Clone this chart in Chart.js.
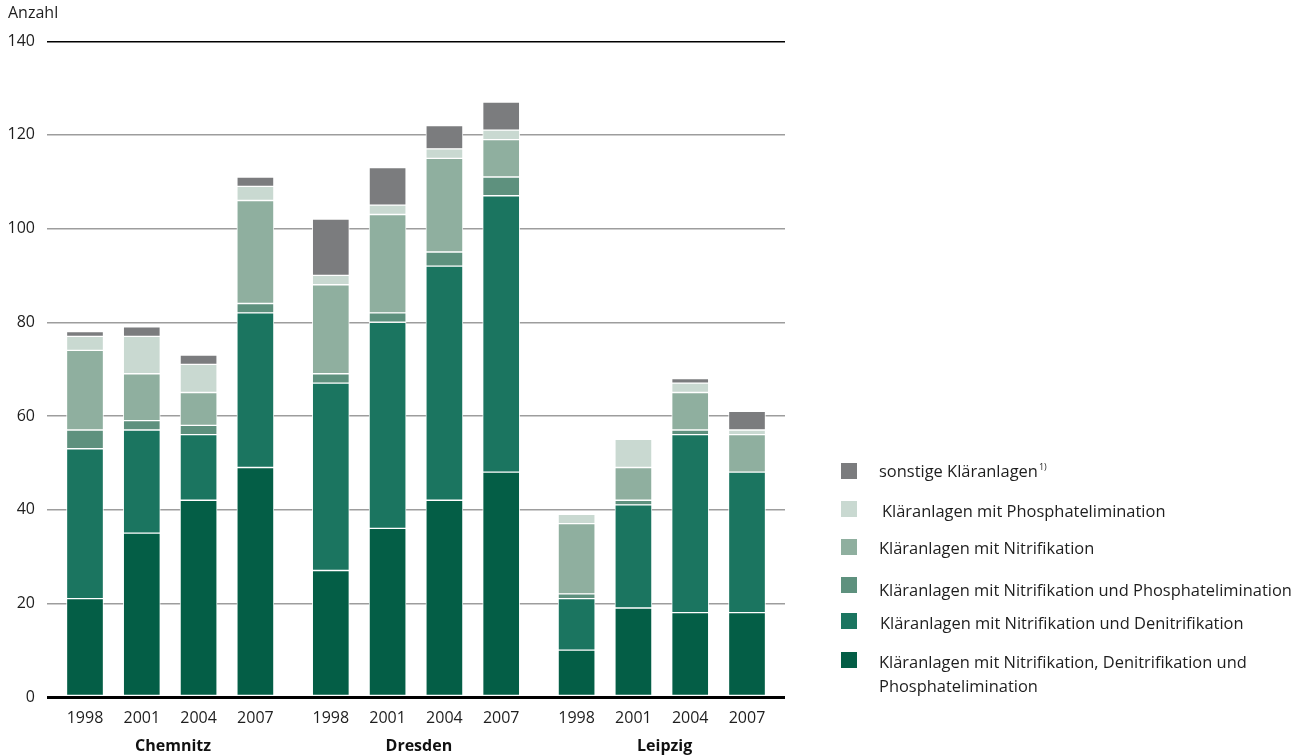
<!DOCTYPE html>
<html>
<head>
<meta charset="utf-8">
<title>Kläranlagen</title>
<script src="https://cdn.jsdelivr.net/npm/chart.js@4/dist/chart.umd.min.js"></script>
<style>
  html, body { margin: 0; padding: 0; background: #fff; }
  #wrap { position: relative; width: 1298px; height: 755px; overflow: hidden; }
  #chart { position: absolute; left: 0; top: 0; }
  .sw { position: absolute; width: 16px; height: 16px; }
  .lt { position: absolute; font-family: 'Open Sans', sans-serif; font-size: 16.45px;
        line-height: 23.5px; color: #1e1e1e; white-space: nowrap; }
  .lt sup { font-size: 9px; line-height: 0; vertical-align: 7px; margin-left: 1px; }
</style>
</head>
<body>
<div id="wrap">
  <canvas id="chart" width="1298" height="755"></canvas>
  <div id="legend"></div>
</div>
<script>
// Anzahl der Kläranlagen nach Behandlungsstufe, je Stadt und Jahr
const cities = ['Chemnitz', 'Dresden', 'Leipzig'];
const years = ['1998', '2001', '2004', '2007'];

// order: Chemnitz 1998..2007, Dresden 1998..2007, Leipzig 1998..2007
const nitDenitPhos = [21, 35, 42, 49, 27, 36, 42, 48, 10, 19, 18, 18];
const nitDenit     = [32, 22, 14, 33, 40, 44, 50, 59, 11, 22, 38, 30];
const nitPhos      = [ 4,  2,  2,  2,  2,  2,  3,  4,  1,  1,  1,  0];
const nit          = [17, 10,  7, 22, 19, 21, 20,  8, 15,  7,  8,  8];
const phos         = [ 3,  8,  6,  3,  2,  2,  2,  2,  2,  6,  2,  1];
const sonstige     = [ 1,  2,  2,  2, 12,  8,  5,  6,  0,  0,  1,  4];

const yTicks = [0, 20, 40, 60, 80, 100, 120, 140];

// stacked bottom to top
const series = [
  { label: 'Kläranlagen mit Nitrifikation, Denitrifikation und Phosphatelimination', values: nitDenitPhos, color: '#045e46' },
  { label: 'Kläranlagen mit Nitrifikation und Denitrifikation', values: nitDenit, color: '#1b7560' },
  { label: 'Kläranlagen mit Nitrifikation und Phosphatelimination', values: nitPhos, color: '#5e917e' },
  { label: 'Kläranlagen mit Nitrifikation', values: nit, color: '#8faf9f' },
  { label: 'Kläranlagen mit Phosphatelimination', values: phos, color: '#c9d9d1' },
  { label: 'sonstige Kläranlagen', values: sonstige, color: '#7b7c7e', note: '1)' }
];

// bar slots: four years per city, with a wider gap between the cities
const groupGap = 0.328;
const xPos = nitDenitPhos.map((_, i) => i + Math.floor(i / years.length) * groupGap);
const cityPos = cities.map((_, g) => g * (years.length + groupGap) + (years.length - 1) / 2 + 0.05);
const xMin = -0.669;
const xMax = xPos[xPos.length - 1] + 0.669;

const fontFamily = "'Open Sans', sans-serif";
const textColor = '#1e1e1e';

const ctx = document.getElementById('chart').getContext('2d');
const chart = new Chart(ctx, {
  type: 'bar',
  data: {
    datasets: series.map(s => ({
      label: s.label,
      data: s.values.map((v, i) => ({ x: xPos[i], y: v })),
      backgroundColor: s.color,
      borderColor: 'rgba(255,255,255,0.85)',
      borderWidth: 1,
      borderSkipped: false,
      barThickness: 37,
      xAxisID: 'x',
      yAxisID: 'y'
    }))
  },
  options: {
    responsive: false,
    animation: false,
    events: [],
    layout: { padding: { left: 8, right: 513, top: 0, bottom: 0 } },
    plugins: {
      legend: { display: false },
      tooltip: { enabled: false },
      title: {
        display: true,
        text: 'Anzahl',
        align: 'start',
        color: textColor,
        font: { family: fontFamily, size: 16, weight: 'normal' },
        padding: { top: 4, bottom: 18 }
      }
    },
    scales: {
      x: {
        type: 'linear',
        position: 'bottom',
        offset: false,
        stacked: true,
        min: xMin,
        max: xMax,
        grid: { display: false },
        border: { display: false },
        afterBuildTicks: s => { s.ticks = xPos.map(v => ({ value: v })); },
        afterFit: s => { s.height = 30; },
        ticks: {
          autoSkip: false,
          maxRotation: 0,
          padding: 4,
          color: textColor,
          font: { family: fontFamily, size: 16 },
          callback: (v, i) => years[i % years.length]
        }
      },
      x2: {
        type: 'linear',
        position: 'bottom',
        offset: false,
        min: xMin,
        max: xMax,
        grid: { display: false },
        border: { display: false },
        afterBuildTicks: s => { s.ticks = cityPos.map(v => ({ value: v })); },
        afterFit: s => { s.height = 28; },
        ticks: {
          autoSkip: false,
          maxRotation: 0,
          padding: 2,
          color: '#111',
          font: { family: fontFamily, size: 16, weight: 'bold' },
          callback: (v, i) => cities[i]
        }
      },
      y: {
        stacked: true,
        min: 0,
        max: 140,
        afterBuildTicks: s => { s.ticks = yTicks.map(v => ({ value: v })); },
        afterFit: s => { s.width = 39; },
        border: { display: false },
        grid: {
          drawTicks: false,
          color: c => (c.tick.value === 0 || c.tick.value === 140) ? '#000' : '#9d9d9d',
          lineWidth: c => c.tick.value === 0 ? 3 : 1.4
        },
        ticks: {
          padding: 12,
          color: textColor,
          font: { family: fontFamily, size: 16 }
        }
      }
    }
  }
});

// legend, top entry first
const legendLayout = [
  { sq: 463, text: 459, x: 879 },
  { sq: 501, text: 499, x: 882 },
  { sq: 539, text: 536, x: 879 },
  { sq: 577, text: 578, x: 879 },
  { sq: 613, text: 611, x: 880 },
  { sq: 652, text: 650, x: 879 }
];
const legendEl = document.getElementById('legend');
series.slice().reverse().forEach((s, k) => {
  const pos = legendLayout[k];
  const sw = document.createElement('div');
  sw.className = 'sw';
  sw.style.left = '841px';
  sw.style.top = pos.sq + 'px';
  sw.style.background = s.color;
  legendEl.appendChild(sw);
  const t = document.createElement('div');
  t.className = 'lt';
  t.style.left = pos.x + 'px';
  t.style.top = pos.text + 'px';
  const label = s.label;
  if (label.length > 60) {
    const cut = label.lastIndexOf(' ');
    t.appendChild(document.createTextNode(label.slice(0, cut)));
    t.appendChild(document.createElement('br'));
    t.appendChild(document.createTextNode(label.slice(cut + 1)));
  } else {
    t.appendChild(document.createTextNode(label));
  }
  if (s.note) {
    const sup = document.createElement('sup');
    sup.textContent = s.note;
    t.appendChild(sup);
  }
  legendEl.appendChild(t);
});
</script>
</body>
</html>
